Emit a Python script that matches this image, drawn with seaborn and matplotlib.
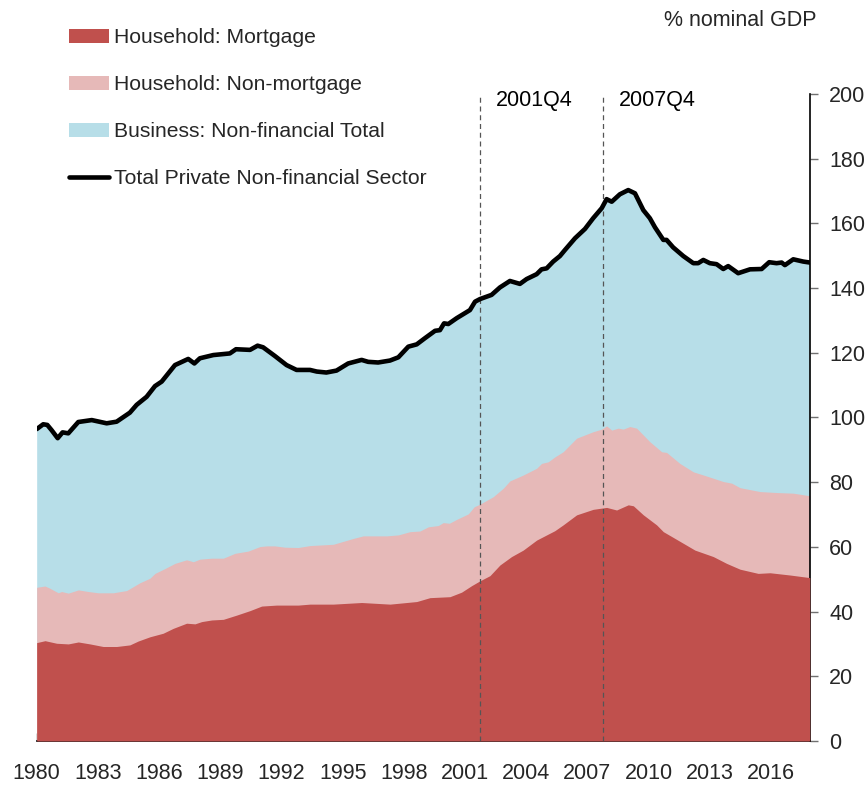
import matplotlib
matplotlib.use("Agg")
import matplotlib.pyplot as plt
import seaborn as sns
from matplotlib.patches import Patch
from matplotlib.lines import Line2D

# ---- data (% of nominal GDP) ----
total_x = [1980.0, 1980.32, 1980.52, 1980.73, 1981.03, 1981.27, 1981.55, 1982.04, 1982.7, 1983.43,
           1983.92, 1984.57, 1984.9, 1985.39, 1985.8, 1986.13, 1986.78, 1987.43, 1987.73, 1988.0,
           1988.66, 1989.47, 1989.77, 1990.46, 1990.83, 1991.1, 1991.68, 1992.25, 1992.74, 1993.4,
           1993.73, 1994.2, 1994.7, 1995.27, 1995.93, 1996.25, 1996.74, 1997.32, 1997.73, 1998.22,
           1998.63, 1999.03, 1999.53, 1999.77, 1999.97, 2000.18, 2000.59, 2001.24, 2001.49, 2001.73,
           2002.3, 2002.71, 2003.2, 2003.69, 2004.02, 2004.51, 2004.75, 2005.0, 2005.32, 2005.65,
           2005.9, 2006.39, 2006.88, 2007.28, 2007.7, 2007.94, 2008.19, 2008.59, 2009.0, 2009.33,
           2009.74, 2010.06, 2010.31, 2010.72, 2010.88, 2011.2, 2011.7, 2012.19, 2012.43, 2012.68,
           2013.0, 2013.33, 2013.66, 2013.9, 2014.39, 2014.97, 2015.54, 2015.91, 2016.27, 2016.52,
           2016.68, 2017.09, 2017.58, 2017.9]
total_private = [96.4, 97.9, 97.7, 96.1, 93.6, 95.4, 95.1, 98.6, 99.2, 98.2,
                 98.7, 101.5, 103.9, 106.4, 109.7, 111.1, 116.2, 118.1, 116.7, 118.3,
                 119.3, 119.8, 121.1, 120.9, 122.2, 121.7, 119.0, 116.2, 114.7, 114.7,
                 114.2, 113.9, 114.5, 116.7, 117.8, 117.2, 117.0, 117.6, 118.6, 121.9,
                 122.6, 124.5, 126.8, 127.0, 129.1, 128.9, 130.7, 133.2, 135.8, 136.6,
                 137.9, 140.2, 142.2, 141.3, 142.8, 144.3, 145.8, 146.1, 148.2, 149.9,
                 151.8, 155.4, 158.3, 161.6, 164.7, 167.5, 166.7, 169.0, 170.3, 169.3,
                 164.1, 161.6, 158.8, 154.9, 154.9, 152.6, 149.9, 147.7, 147.7, 148.7,
                 147.7, 147.4, 145.9, 146.8, 144.6, 145.8, 145.9, 148.0, 147.7, 147.9,
                 147.1, 148.9, 148.2, 147.9]

# household total (mortgage + non-mortgage), top of the pink band
hh_x = [1980.0, 1980.41, 1980.65, 1981.06, 1981.22, 1981.55, 1982.04, 1982.53, 1983.02, 1983.75,
        1984.41, 1985.06, 1985.55, 1985.8, 1986.29, 1986.78, 1987.35, 1987.68, 1988.0, 1988.58,
        1989.15, 1989.72, 1990.37, 1990.95, 1991.27, 1991.68, 1992.17, 1992.82, 1993.4, 1994.54,
        1995.52, 1996.01, 1997.16, 1997.73, 1998.3, 1998.79, 1999.2, 1999.69, 1999.93, 2000.23,
        2000.59, 2001.16, 2001.45, 2001.73, 2002.38, 2002.87, 2003.2, 2003.85, 2004.51, 2004.75,
        2005.08, 2005.4, 2005.81, 2006.47, 2007.28, 2007.7, 2007.94, 2008.19, 2008.51, 2008.75,
        2009.08, 2009.41, 2010.06, 2010.64, 2010.88, 2011.53, 2012.19, 2012.84, 2013.66, 2014.07,
        2014.48, 2015.46, 2016.27, 2017.09, 2017.9]
household_total = [47.5, 47.9, 47.2, 45.8, 46.2, 45.7, 46.7, 46.2, 45.8, 45.8,
                   46.5, 48.9, 50.3, 51.8, 53.3, 54.9, 56.0, 55.4, 56.2, 56.5,
                   56.5, 58.0, 58.7, 60.1, 60.3, 60.3, 59.9, 59.8, 60.4, 60.8,
                   62.6, 63.4, 63.4, 63.7, 64.7, 64.9, 66.2, 66.6, 67.5, 67.3,
                   68.5, 70.2, 72.4, 73.2, 75.5, 78.1, 80.4, 82.2, 84.3, 85.8,
                   86.3, 87.8, 89.4, 93.6, 95.6, 96.4, 97.4, 96.1, 96.7, 96.4,
                   97.2, 96.7, 92.5, 89.4, 89.2, 85.8, 83.2, 81.9, 80.2, 79.7,
                   78.3, 77.1, 76.8, 76.6, 75.8]

# household mortgage
mort_x = [1980.0, 1980.41, 1980.98, 1981.55, 1982.04, 1982.61, 1983.26, 1983.92, 1984.57, 1984.98,
          1985.55, 1986.2, 1986.69, 1987.35, 1987.76, 1988.09, 1988.58, 1989.15, 1989.8, 1990.46,
          1991.03, 1991.76, 1992.25, 1992.82, 1993.4, 1994.54, 1995.93, 1997.32, 1998.63, 1999.28,
          2000.26, 2000.83, 2001.32, 2001.73, 2002.22, 2002.71, 2003.28, 2003.85, 2004.51, 2005.0,
          2005.4, 2005.81, 2006.47, 2007.28, 2007.94, 2008.43, 2009.0, 2009.25, 2009.74, 2010.39,
          2010.72, 2011.13, 2012.27, 2013.17, 2013.82, 2014.48, 2015.37, 2015.95, 2016.93, 2017.9]
mortgage = [30.4, 31.0, 30.2, 30.0, 30.6, 30.0, 29.2, 29.2, 29.7, 30.9,
            32.2, 33.3, 34.8, 36.4, 36.2, 36.9, 37.4, 37.6, 38.9, 40.3,
            41.7, 42.0, 42.0, 42.0, 42.3, 42.3, 42.8, 42.3, 43.1, 44.3,
            44.6, 46.0, 48.0, 49.5, 51.1, 54.4, 57.0, 59.0, 62.1, 63.7,
            65.0, 66.8, 69.9, 71.6, 72.2, 71.4, 73.0, 72.7, 69.9, 66.8,
            64.7, 63.2, 59.0, 57.0, 54.9, 53.1, 51.8, 52.0, 51.3, 50.5]

series_labels = ["Household: Mortgage", "Household: Non-mortgage",
                 "Business: Non-financial Total", "Total Private Non-financial Sector"]
event_x = [2001.75, 2007.75]
event_labels = ["2001Q4", "2007Q4"]
x_ticks = list(range(1980, 2017, 3))
y_ticks = list(range(0, 201, 20))

RED = "#C0504D"
PINK = "#E6B9B8"
BLUE = "#B7DEE8"

# ---- figure ----
sns.set_style("white")
plt.rcParams["font.family"] = ["Liberation Sans", "DejaVu Sans"]

fig = plt.figure(figsize=(8.67, 7.86), dpi=100)
ax = fig.add_axes([0.0423, 0.0573, 0.8917, 0.8231])

ax.fill_between(total_x, 0, total_private, color=BLUE, lw=0, zorder=1)
ax.fill_between(hh_x, 0, household_total, color=PINK, lw=0, zorder=2)
ax.fill_between(mort_x, 0, mortgage, color=RED, lw=0, zorder=3)

for ex, lab in zip(event_x, event_labels):
    ax.axvline(ex, color="#555555", lw=0.9, ls=(0, (4, 3)), zorder=4)
    ax.annotate(lab, xy=(ex, 198), xytext=(11.5, 0), textcoords="offset points",
                ha="left", va="center", fontsize=15.5, color="black")

sns.lineplot(x=total_x, y=total_private, color="black", lw=3.3, ax=ax, zorder=5)

ax.set_xlim(1980, 2017.9)
ax.set_ylim(0, 200)
ax.set_xticks(x_ticks)
ax.set_xticklabels([str(t) for t in x_ticks])
ax.set_yticks(y_ticks)
ax.yaxis.tick_right()
ax.set_xlabel("")
ax.set_ylabel("")

for s in ["left", "top"]:
    ax.spines[s].set_visible(False)
for s in ["right", "bottom"]:
    ax.spines[s].set_visible(True)
    ax.spines[s].set_color("black")
    ax.spines[s].set_linewidth(1.2)

ax.tick_params(axis="x", direction="in", length=6, width=1, color="#404040",
               pad=16, labelsize=15.5, bottom=True)
ax.tick_params(axis="y", direction="out", length=6, width=1, color="#707070",
               pad=8, labelsize=15.5, right=True, left=False)

handles = [Patch(facecolor=RED, edgecolor="none"),
           Patch(facecolor=PINK, edgecolor="none"),
           Patch(facecolor=BLUE, edgecolor="none"),
           Line2D([], [], color="black", lw=3.3)]
fig.legend(handles, series_labels, loc="upper left",
           bbox_to_anchor=(69 / 867, 1 - 28 / 786), frameon=False, fontsize=15.2,
           handlelength=1.9, handleheight=0.65, handletextpad=0.25,
           labelspacing=1.33, borderaxespad=0, borderpad=0)

fig.text(740 / 867, 1 - 20 / 786, "% nominal GDP", ha="center", va="center", fontsize=15.5)

fig.savefig("out.png", dpi=100)
